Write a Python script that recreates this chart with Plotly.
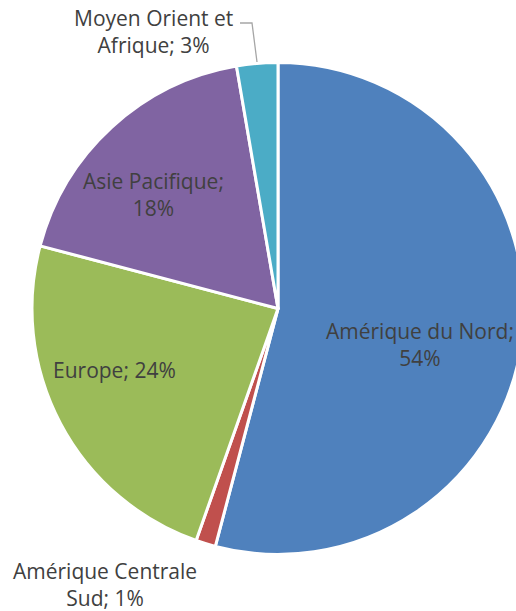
import plotly.graph_objects as go

REGIONS = ["Amérique du Nord", "Amérique Centrale Sud", "Europe", "Asie Pacifique",
           "Moyen Orient et Afrique"]
# shares; the labels show them rounded
SHARES = [54.1, 1.3, 23.7, 18.2, 2.7]
# how each label is broken into lines, as in the original
LABEL_LINES = ["Amérique du Nord;<br>{}%", "Amérique Centrale<br>Sud; {}%", "Europe; {}%",
               "Asie Pacifique;<br>{}%", "Moyen Orient et<br>Afrique; {}%"]

COLORS = ["#4F81BD", "#C0504D", "#9BBB59", "#8064A2", "#4BACC6"]
TEXT_COLOR = "#404040"
FONT = "Open Sans, Noto Sans, sans-serif"

# figure a bit wider than the window so the pie gets cut on the right, like the original
W, H = 540, 611

# label centres in pixels from the top-left corner
LABEL_POS = [(420, 344), (105, 584), (114, 370), (153, 194), (153, 32)]


def px(x, y):
    return x / W, 1 - y / H


fig = go.Figure(go.Pie(
    labels=REGIONS,
    values=SHARES,
    textinfo="none",
    sort=False,
    direction="clockwise",
    rotation=0,
    marker=dict(colors=COLORS, line=dict(color="white", width=3)),
    domain=dict(x=[32 / W, 524 / W], y=[1 - 555 / H, 1 - 62 / H]),
    hoverinfo="label+percent",
))

for tmpl, share, (lx, ly) in zip(LABEL_LINES, SHARES, LABEL_POS):
    ax, ay = px(lx, ly)
    fig.add_annotation(x=ax, y=ay, xref="paper", yref="paper",
                       xanchor="center", yanchor="middle",
                       text=tmpl.format(round(share)), showarrow=False, align="center",
                       font=dict(family=FONT, size=21, color=TEXT_COLOR))

# leader line for the Moyen Orient label
p1, p2, p3 = px(240, 23), px(252, 23), px(257, 62)
fig.add_shape(type="path", xref="paper", yref="paper",
              path=f"M {p1[0]} {p1[1]} L {p2[0]} {p2[1]} L {p3[0]} {p3[1]}",
              line=dict(color="#A6A6A6", width=1.3))

fig.update_layout(
    width=W, height=H,
    margin=dict(l=0, r=0, t=0, b=0),
    showlegend=False,
    paper_bgcolor="white",
)

fig.write_html("out.html", config={"displayModeBar": False},
               post_script="document.body.style.margin='0';document.body.style.overflow='hidden';")
